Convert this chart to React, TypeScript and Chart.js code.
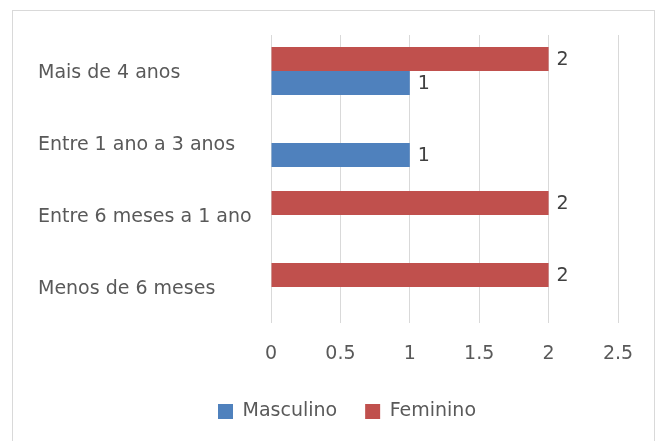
import React, { useEffect, useRef } from "react";
import { Chart, registerables } from "chart.js";

Chart.register(...registerables);

const categories = ["Mais de 4 anos", "Entre 1 ano a 3 anos", "Entre 6 meses a 1 ano", "Menos de 6 meses"];
const masculino: (number | null)[] = [1, 1, null, null];
const feminino: (number | null)[] = [2, null, 2, 2];
const xTickLabels = ["0", "0.5", "1", "1.5", "2", "2.5"];

const FONT = "'DejaVu Sans', sans-serif";
const FONT_SIZE = 19;

const valueLabels = {
  id: "valueLabels",
  afterDatasetsDraw(chart: any) {
    const ctx = chart.ctx;
    ctx.save();
    ctx.font = `${FONT_SIZE}px ${FONT}`;
    ctx.fillStyle = "#404040";
    ctx.textAlign = "left";
    ctx.textBaseline = "middle";
    chart.data.datasets.forEach((ds: any, di: number) => {
      const meta = chart.getDatasetMeta(di);
      meta.data.forEach((el: any, i: number) => {
        const v = ds.data[i];
        if (v === null || v === undefined) return;
        ctx.fillText(String(v), el.x + 8, el.y + 1);
      });
    });
    ctx.restore();
  },
};

const legendShift = {
  id: "legendShift",
  afterLayout(chart: any) {
    const lg = chart.legend;
    if (!lg) return;
    const dx = 19;
    const dy = -10;
    lg.left += dx;
    lg.right += dx;
    lg.top += dy;
    lg.bottom += dy;
  },
};

export default function App() {
  const ref = useRef<HTMLCanvasElement | null>(null);
  useEffect(() => {
    if (!ref.current) return;
    const chart = new Chart(ref.current, {
      type: "bar",
      data: {
        labels: categories,
        datasets: [
          {
            label: "Feminino",
            data: feminino,
            backgroundColor: "#c0504d",
            borderWidth: 0,
            categoryPercentage: 0.667,
            barPercentage: 1,
          },
          {
            label: "Masculino",
            data: masculino,
            backgroundColor: "#4f81bd",
            borderWidth: 0,
            categoryPercentage: 0.667,
            barPercentage: 1,
          },
        ],
      },
      options: {
        indexAxis: "y",
        responsive: false,
        animation: false,
        layout: { padding: { top: 35, left: 38, right: 46, bottom: 0 } },
        scales: {
          x: {
            min: 0,
            max: 2.5,
            ticks: {
              stepSize: 0.5,
              padding: 20,
              color: "#595959",
              font: { family: FONT, size: FONT_SIZE },
              callback: (_v: any, i: number) => xTickLabels[i],
            },
            grid: { color: "#d9d9d9", lineWidth: 1, drawTicks: false },
            border: { display: false },
            afterFit: (s: any) => {
              s.height = 61;
            },
          },
          y: {
            ticks: {
              crossAlign: "far",
              labelOffset: 2,
              color: "#595959",
              font: { family: FONT, size: FONT_SIZE },
            },
            grid: { display: false, drawTicks: false },
            border: { display: false },
            afterFit: (s: any) => {
              s.width = 233;
            },
          },
        },
        plugins: {
          legend: {
            position: "bottom",
            reverse: true,
            labels: {
              boxWidth: 15,
              boxHeight: 15,
              padding: 28,
              color: "#595959",
              font: { family: FONT, size: FONT_SIZE },
            },
          },
          tooltip: { enabled: false },
        },
      },
      plugins: [valueLabels, legendShift],
    } as any);
    return () => chart.destroy();
  }, []);

  return (
    <div style={{ position: "absolute", left: 0, top: 0, width: 664, height: 441, background: "#fff", overflow: "hidden" }}>
      <div
        style={{
          position: "absolute",
          left: 12,
          top: 10,
          width: 643,
          height: 445,
          border: "1px solid #d9d9d9",
          boxSizing: "border-box",
        }}
      />
      <canvas ref={ref} width={664} height={441} style={{ position: "absolute", left: 0, top: 0 }} />
    </div>
  );
}
